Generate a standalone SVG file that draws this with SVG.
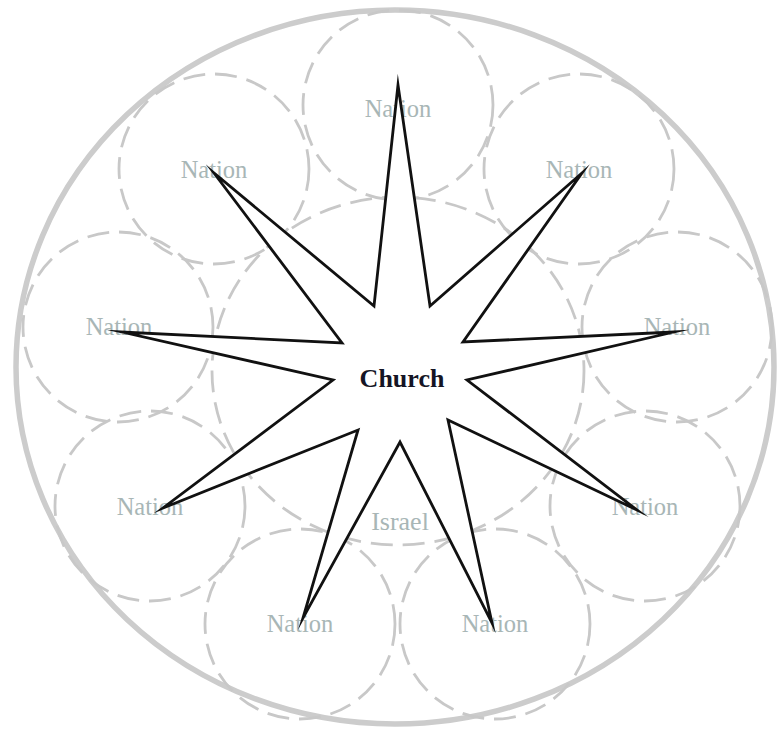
<svg xmlns="http://www.w3.org/2000/svg" width="777" height="731" viewBox="0 0 777 731">
<style>
.nc{fill:none;stroke:#c8c8c8;stroke-width:2.8;stroke-dasharray:22 10}
.nt{font-family:"Liberation Serif",serif;font-size:24.5px;fill:#a8b6b6;text-anchor:middle}
.it{font-family:"Liberation Serif",serif;font-size:26px;fill:#a8b6b6;text-anchor:middle}
.ct{font-family:"Liberation Serif",serif;font-size:26px;font-weight:bold;fill:#151525;text-anchor:middle}
</style>
<rect width="777" height="731" fill="#ffffff"/>
<g id="world">
<ellipse cx="395" cy="367" rx="379" ry="357" fill="none" stroke="#cccccc" stroke-width="5.5"/>
</g>
<g id="israel">
<ellipse class="nc" cx="398" cy="371" rx="186" ry="174"/>
<text class="it" x="400" y="530">Israel</text>
</g>
<g id="nation-top"><circle class="nc" cx="398" cy="105" r="95"/><text class="nt" x="398" y="117">Nation</text></g>
<g id="nation-top-left"><circle class="nc" cx="214" cy="169" r="95"/><text class="nt" x="214" y="178">Nation</text></g>
<g id="nation-top-right"><circle class="nc" cx="579" cy="169" r="95"/><text class="nt" x="579" y="178">Nation</text></g>
<g id="nation-left"><circle class="nc" cx="118" cy="327" r="95"/><text class="nt" x="119" y="335">Nation</text></g>
<g id="nation-right"><circle class="nc" cx="677" cy="327" r="95"/><text class="nt" x="677" y="335">Nation</text></g>
<g id="nation-lower-left"><circle class="nc" cx="150" cy="506" r="95"/><text class="nt" x="150" y="515">Nation</text></g>
<g id="nation-lower-right"><circle class="nc" cx="645" cy="506" r="95"/><text class="nt" x="645" y="515">Nation</text></g>
<g id="nation-bottom-left"><circle class="nc" cx="300" cy="624" r="95"/><text class="nt" x="300" y="632">Nation</text></g>
<g id="nation-bottom-right"><circle class="nc" cx="495" cy="624" r="95"/><text class="nt" x="495" y="632">Nation</text></g>
<g id="church">
<polygon points="398,85 430,306 582,173 463,342 674,332 467,380 637,510 448,420 492,623 400,442 303,618 358,430 163,508 333,380 122,332 342,343 214,173 374,306" fill="#ffffff" stroke="#111111" stroke-width="2.8" stroke-linejoin="miter" stroke-miterlimit="30"/>
<text class="ct" x="402" y="387">Church</text>
</g>
</svg>
